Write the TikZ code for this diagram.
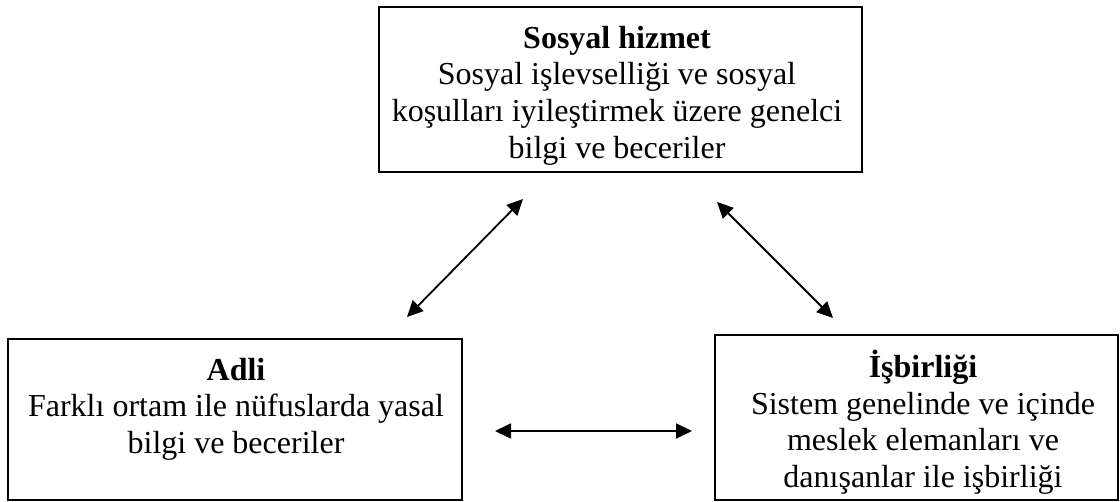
\documentclass[tikz,border=0pt]{standalone}
\usepackage{fontspec}
\setmainfont{Liberation Serif}
\usetikzlibrary{arrows.meta}
\begin{document}
\begin{tikzpicture}[x=1pt,y=-1pt,
  boxstyle/.style={draw=black,line width=1.6pt,rectangle,inner sep=0pt},
  txt/.style={align=center,inner sep=0pt,anchor=north,font=\fontsize{32}{36.8}\selectfont},
  link/.style={line width=1.8pt,{Triangle[length=16pt,width=15pt]}-{Triangle[length=16pt,width=15pt]}}]
\useasboundingbox (0,0) rectangle (1120,502);
% boxes
\node[boxstyle,minimum width=483pt,minimum height=165pt] (top) at (620.5,89.5) {};
\node[boxstyle,minimum width=454pt,minimum height=161pt] (adli) at (235,419.5) {};
\node[boxstyle,minimum width=403pt,minimum height=165pt] (isb) at (916.5,417.5) {};
% texts
\node[txt] (toptext) at (617,18) {\rule{0pt}{30pt}\textbf{Sosyal hizmet}\\Sosyal işlevselliği ve sosyal\\koşulları iyileştirmek üzere genelci\\bilgi ve beceriler};
\node[txt] (adlitext) at (236,350) {\rule{0pt}{30pt}\textbf{Adli}\\Farklı ortam ile nüfuslarda yasal\\bilgi ve beceriler};
\node[txt] (isbtext) at (923,347) {\rule{0pt}{30pt}\textbf{İşbirliği}\\Sistem genelinde ve içinde\\meslek elemanları ve\\danışanlar ile işbirliği};
% arrow ends
\coordinate (a1) at (523,199);
\coordinate (a2) at (407,317);
\coordinate (b1) at (717,202);
\coordinate (b2) at (833,318);
\coordinate (c1) at (495,431);
\coordinate (c2) at (692,431);
\draw[link] (a1) -- (a2);
\draw[link] (b1) -- (b2);
\draw[link] (c1) -- (c2);
\end{tikzpicture}
\end{document}
